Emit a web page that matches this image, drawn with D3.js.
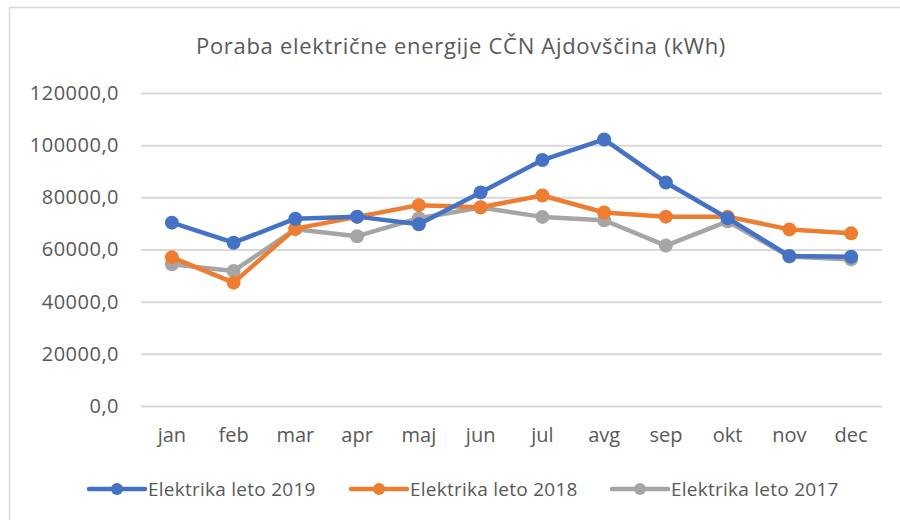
<!DOCTYPE html>
<html>
<head>
<meta charset="utf-8">
<script src="https://cdn.jsdelivr.net/npm/d3@7"></script>
<style>
  body { margin: 0; background: #fff; }
  svg text { font-family: "Open Sans", "Noto Sans", sans-serif; fill: #595959; }
</style>
</head>
<body>
<svg id="chart" width="900" height="520"></svg>
<script>
// months and yearly consumption (kWh)
let months = ["jan", "feb", "mar", "apr", "maj", "jun", "jul", "avg", "sep", "okt", "nov", "dec"];
let leto2019 = [70300, 62600, 71800, 72600, 69700, 81900, 94300, 102200, 85700, 72000, 57500, 57200];
let leto2018 = [57000, 47300, 68000, 72500, 77000, 76200, 80700, 74200, 72600, 72600, 67700, 66200];
let leto2017 = [54300, 51800, 67800, 65100, 72000, 76100, 72500, 71200, 61500, 70800, 57300, 56200];
let yTicks = [0, 20000, 40000, 60000, 80000, 100000, 120000];

let seriesNames = ["Elektrika leto 2019", "Elektrika leto 2018", "Elektrika leto 2017"];
let seriesColors = ["#4472C4", "#ED7D31", "#A5A5A5"];
let seriesValues = [leto2019, leto2018, leto2017];

let svg = d3.select("#chart");

// chart frame (only top/left edges fall inside the picture)
svg.append("rect")
  .attr("x", 9.5).attr("y", 7.5)
  .attr("width", 900).attr("height", 530)
  .style("fill", "none")
  .style("stroke", "#D9D9D9")
  .style("stroke-width", 1.5);

let x = d3.scaleBand().domain(months).range([141, 882]);
let y = d3.scaleLinear().domain([0, 120000]).range([406, 93]);

let slo = d3.formatLocale({decimal: ",", thousands: "", grouping: [3], currency: ["", ""]});
let fmt = slo.format(".1f");

svg.append("text")
  .attr("x", 461).attr("y", 54)
  .attr("text-anchor", "middle")
  .style("font-size", "22px")
  .style("letter-spacing", "0.7px")
  .text("Poraba električne energije CČN Ajdovščina (kWh)");

// gridlines + y labels
let yAxis = svg.append("g")
  .attr("transform", "translate(141,0)")
  .call(d3.axisLeft(y).tickValues(yTicks).tickFormat(fmt).tickSize(-741).tickPadding(22));
yAxis.select(".domain").remove();
yAxis.selectAll("line").style("stroke", "#D9D9D9").style("stroke-width", 2);
yAxis.selectAll("text").style("font-size", "20px").style("letter-spacing", "0.5px").style("font-family", null);

// x labels
let xAxis = svg.append("g")
  .attr("transform", "translate(0,406)")
  .call(d3.axisBottom(x).tickSize(0).tickPadding(22));
xAxis.select(".domain").remove();
xAxis.selectAll("text").style("font-size", "20px").style("font-family", null);

let line = d3.line()
  .x(function(d, i){ return x(months[i]) + x.bandwidth() / 2; })
  .y(function(d){ return y(d); });

// draw 2017 first so 2019 sits on top
[2, 1, 0].forEach(function(s){
  let g = svg.append("g").attr("class", "series");
  g.append("path")
    .attr("d", line(seriesValues[s]))
    .style("fill", "none")
    .style("stroke", seriesColors[s])
    .style("stroke-width", 4.5)
    .style("stroke-linejoin", "round");
  g.selectAll("circle")
    .data(seriesValues[s])
    .enter().append("circle")
      .attr("cx", function(d, i){ return x(months[i]) + x.bandwidth() / 2; })
      .attr("cy", function(d){ return y(d); })
      .attr("r", 7)
      .style("fill", seriesColors[s]);
});

// legend
let legendX = [89, 351, 612];
seriesNames.forEach(function(name, i){
  let lg = svg.append("g").attr("transform", "translate(" + legendX[i] + ",489)");
  lg.append("line")
    .attr("x1", 0).attr("x2", 56)
    .style("stroke", seriesColors[i])
    .style("stroke-width", 4.5)
    .style("stroke-linecap", "round");
  lg.append("circle").attr("cx", 28).attr("r", 6).style("fill", seriesColors[i]);
  lg.append("text")
    .attr("x", 59).attr("y", 7)
    .style("font-size", "19px")
    .style("letter-spacing", "0.25px")
    .text(name);
});
</script>
</body>
</html>
